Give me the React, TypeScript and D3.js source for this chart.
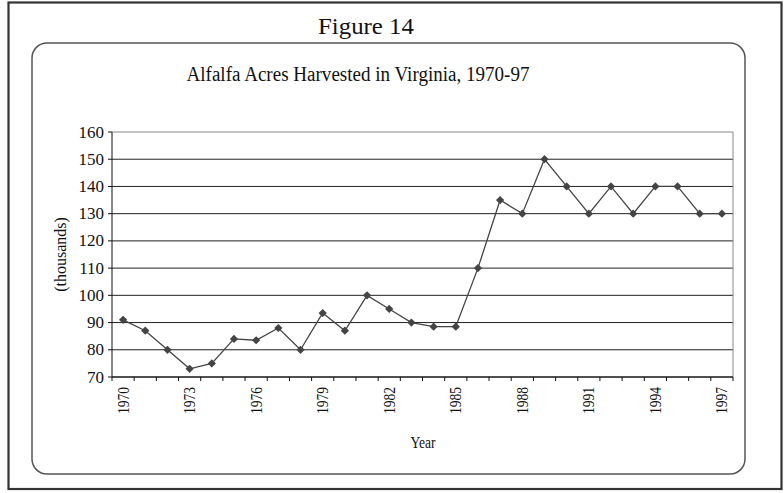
import React from "react";
import * as d3 from "d3";

const years: string[] = [
  "1970","1971","1972","1973","1974","1975","1976","1977","1978","1979",
  "1980","1981","1982","1983","1984","1985","1986","1987","1988","1989",
  "1990","1991","1992","1993","1994","1995","1996","1997",
];
const acres: number[] = [
  91, 87, 80, 73, 75, 84, 83.5, 88, 80, 93.5,
  87, 100, 95, 90, 88.5, 88.5, 110, 135, 130, 150,
  140, 130, 140, 130, 140, 140, 130, 130,
];
const yTicks: number[] = [70, 80, 90, 100, 110, 120, 130, 140, 150, 160];
const xLabelYears: string[] = ["1970","1973","1976","1979","1982","1985","1988","1991","1994","1997"];

const figureTitle = "Figure 14";
const chartTitle = "Alfalfa Acres Harvested in Virginia, 1970-97";
const yTitle = "(thousands)";
const xTitle = "Year";

export default function App() {
  const W = 784, H = 493;
  const left = 112, right = 733, top = 132, bottom = 377;
  const font = "Liberation Serif, Times New Roman, serif";

  const x = d3.scaleBand<string>().domain(years).range([left, right]).padding(0);
  const y = d3.scaleLinear().domain([70, 160]).range([bottom, top]);
  const cx = (yr: string) => (x(yr) as number) + x.bandwidth() / 2;

  const line = d3.line<number>()
    .x((_, i) => cx(years[i]))
    .y((d) => y(d));

  const marker = d3.symbol().type(d3.symbolSquare).size(34)();

  const boundaries = years.map((yr) => x(yr) as number).concat([right]);

  return (
    <svg width={W} height={H} style={{ position: "absolute", left: 0, top: 0, background: "#fff", fontFamily: font }}>
      {/* outer border */}
      <rect x={8.5} y={2.5} width={773} height={486.5} fill="none" stroke="#333" strokeWidth={2.2} />
      <text x={366} y={34} textAnchor="middle" fontSize={23} fill="#111"
        textLength={96} lengthAdjust="spacingAndGlyphs">{figureTitle}</text>
      {/* inner rounded frame */}
      <rect x={32} y={43} width={713} height={431} rx={15} ry={15} fill="#fff" stroke="#555" strokeWidth={1.5} />
      <text x={358} y={81} textAnchor="middle" fontSize={20} fill="#111"
        textLength={343} lengthAdjust="spacingAndGlyphs">{chartTitle}</text>

      {/* gridlines */}
      {yTicks.map((t) => (
        <line key={"g" + t} x1={left} x2={right} y1={y(t)} y2={y(t)}
          stroke={t === 160 ? "#888" : "#222"} strokeWidth={1} />
      ))}
      {/* plot right border */}
      <line x1={right} x2={right} y1={top} y2={bottom} stroke="#888" strokeWidth={1} />

      {/* y axis */}
      <line x1={left} x2={left} y1={top} y2={bottom} stroke="#111" strokeWidth={1} />
      {yTicks.map((t) => (
        <g key={"yt" + t}>
          <line x1={left - 4} x2={left} y1={y(t)} y2={y(t)} stroke="#111" strokeWidth={1} />
          <text x={104} y={y(t) + 5.5} textAnchor="end" fontSize={17} fill="#111">{t}</text>
        </g>
      ))}

      {/* x axis */}
      <line x1={left} x2={right} y1={bottom} y2={bottom} stroke="#111" strokeWidth={1} />
      {boundaries.map((b, i) => (
        <line key={"xt" + i} x1={b} x2={b} y1={bottom} y2={bottom + 4} stroke="#111" strokeWidth={1} />
      ))}
      {xLabelYears.map((yr) => (
        <text key={"xl" + yr} transform={`translate(${cx(yr) + 5.5},387) rotate(-90)`}
          textAnchor="end" fontSize={16} fill="#111"
          textLength={27} lengthAdjust="spacingAndGlyphs">{yr}</text>
      ))}

      {/* axis titles */}
      <text transform={`translate(66,${(top + bottom) / 2}) rotate(-90)`} textAnchor="middle"
        fontSize={16} fill="#111">{yTitle}</text>
      <text x={423} y={448} textAnchor="middle" fontSize={16} fill="#111"
        textLength={25} lengthAdjust="spacingAndGlyphs">{xTitle}</text>

      {/* series */}
      <path d={line(acres) || ""} fill="none" stroke="#444" strokeWidth={1.3} />
      {acres.map((v, i) => (
        <path key={"m" + i} d={marker || ""} transform={`translate(${cx(years[i])},${y(v)}) rotate(45)`} fill="#444" />
      ))}
    </svg>
  );
}
